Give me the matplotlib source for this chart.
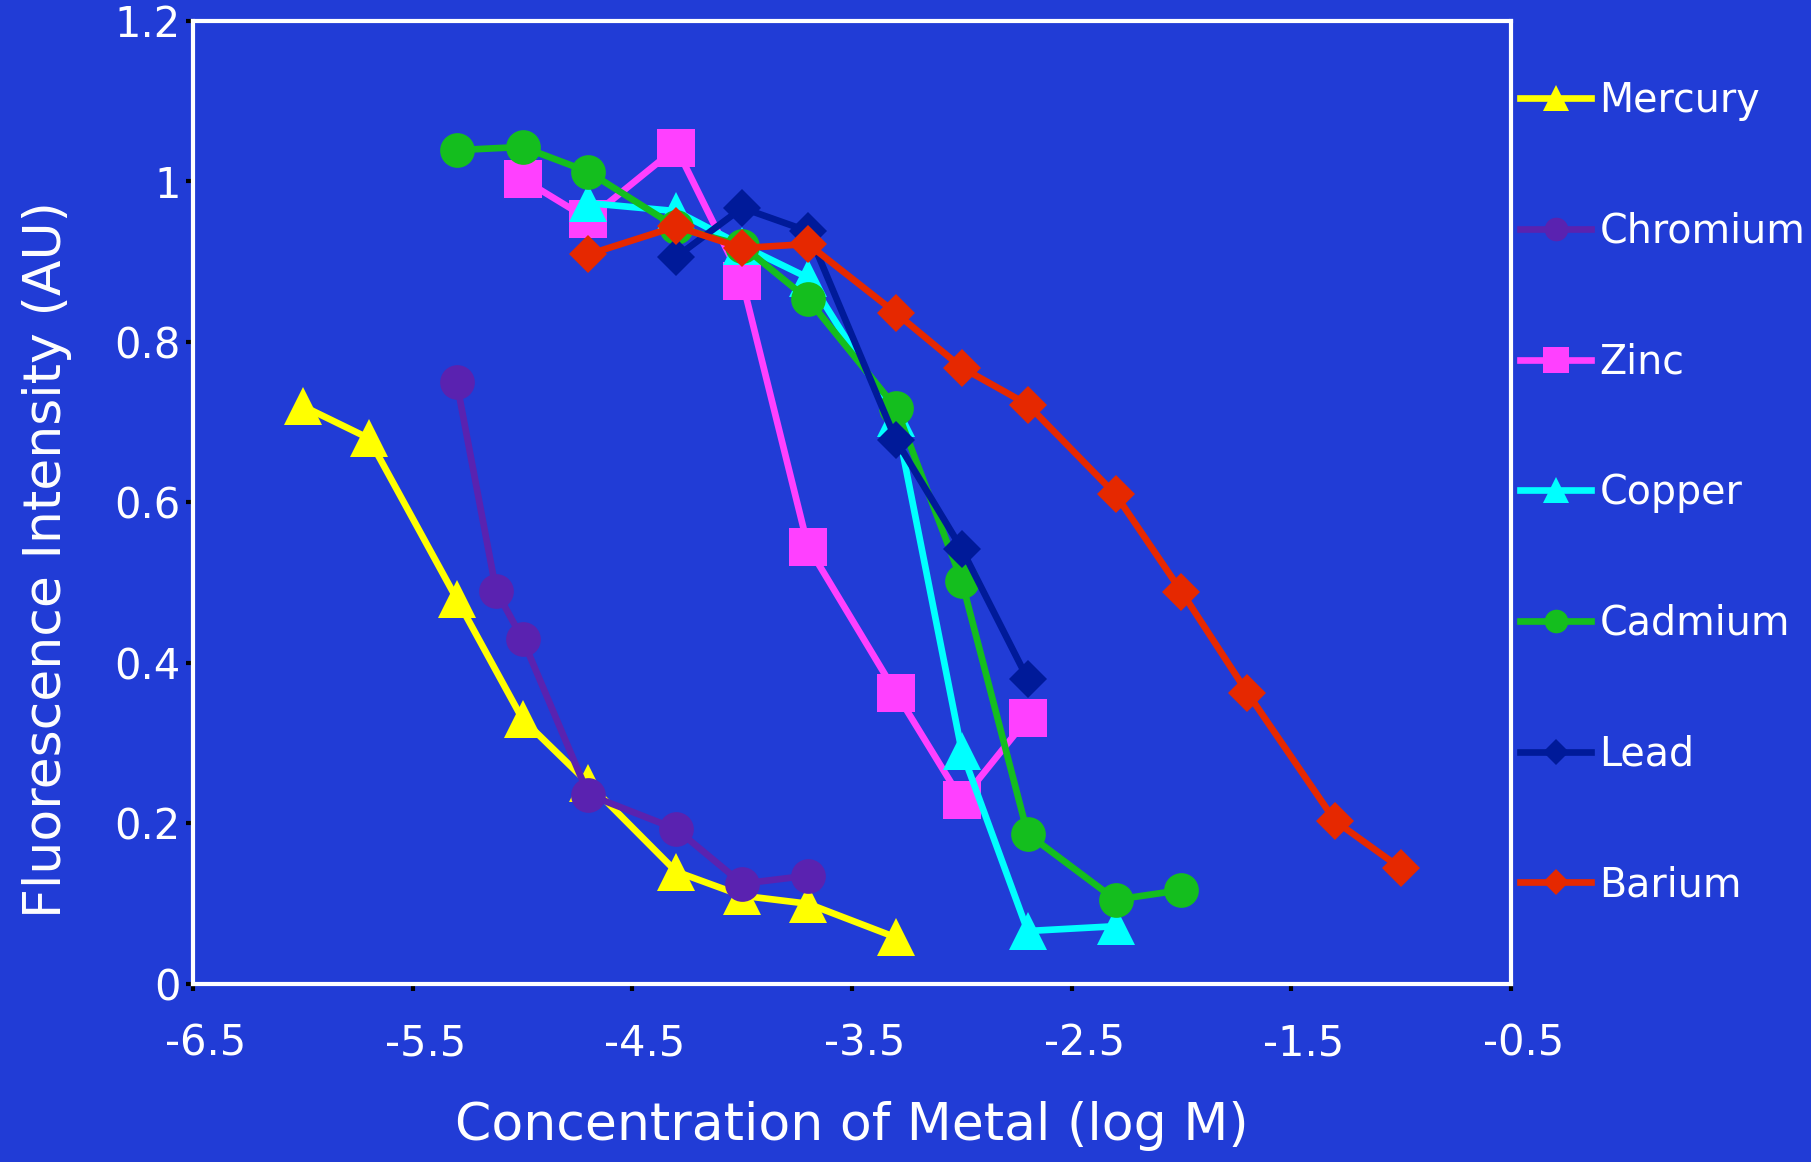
import matplotlib
matplotlib.use("Agg")
import matplotlib.pyplot as plt
from matplotlib.transforms import ScaledTranslation

# log10 of concentration (M)
mercury_x = [-6.0, -5.7, -5.3, -5.0, -4.7, -4.3, -4.0, -3.7, -3.3]
mercury_y = [0.72, 0.68, 0.48, 0.33, 0.25, 0.14, 0.11, 0.10, 0.058]

chromium_x = [-5.3, -5.12, -5.0, -4.7, -4.3, -4.0, -3.7]
chromium_y = [0.75, 0.49, 0.43, 0.236, 0.193, 0.125, 0.135]

zinc_x = [-5.0, -4.7, -4.3, -4.0, -3.7, -3.3, -3.0, -2.7]
zinc_y = [1.003, 0.953, 1.042, 0.876, 0.545, 0.363, 0.229, 0.331]

copper_x = [-4.7, -4.3, -4.0, -3.7, -3.3, -3.0, -2.7, -2.3]
copper_y = [0.973, 0.963, 0.92, 0.88, 0.705, 0.29, 0.066, 0.072]

cadmium_x = [-5.3, -5.0, -4.7, -4.3, -4.0, -3.7, -3.3, -3.0, -2.7, -2.3, -2.0]
cadmium_y = [1.039, 1.043, 1.012, 0.943, 0.92, 0.853, 0.718, 0.502, 0.187, 0.105, 0.117]

lead_x = [-4.3, -4.0, -3.7, -3.3, -3.0, -2.7]
lead_y = [0.906, 0.967, 0.938, 0.678, 0.542, 0.38]

barium_x = [-4.7, -4.3, -4.0, -3.7, -3.3, -3.0, -2.7, -2.3, -2.0, -1.7, -1.3, -1.0]
barium_y = [0.909, 0.944, 0.917, 0.922, 0.836, 0.768, 0.722, 0.61, 0.489, 0.363, 0.203, 0.144]

x_ticks = [-6.5, -5.5, -4.5, -3.5, -2.5, -1.5, -0.5]
y_ticks = [0, 0.2, 0.4, 0.6, 0.8, 1.0, 1.2]

BG = "#213CD6"

series = [
    ("Mercury", mercury_x, mercury_y, "#FFFF00", "^", 28),
    ("Chromium", chromium_x, chromium_y, "#5A22B0", "o", 25),
    ("Zinc", zinc_x, zinc_y, "#FF40FF", "s", 27),
    ("Copper", copper_x, copper_y, "#00FFFF", "^", 28),
    ("Cadmium", cadmium_x, cadmium_y, "#14BE1E", "o", 25),
    ("Lead", lead_x, lead_y, "#001A99", "D", 19),
    ("Barium", barium_x, barium_y, "#E62800", "D", 19),
]

plt.rcParams["font.family"] = ["DejaVu Sans"]
plt.rcParams["axes.unicode_minus"] = False

fig = plt.figure(figsize=(18.11, 11.62), dpi=100, facecolor=BG)
ax = fig.add_axes([0.1066, 0.1532, 0.7277, 0.8288], facecolor=BG)

for name, xs, ys, col, mk, ms in series:
    ax.plot(xs, ys, color=col, lw=4.8, marker=mk, ms=ms,
            markeredgewidth=0, label=name, solid_joinstyle="round")

ax.set_xlim(-6.5, -0.5)
ax.set_ylim(0, 1.2)
ax.set_xticks(x_ticks)
ax.set_xticklabels([f"{v:g}" for v in x_ticks])
ax.set_yticks(y_ticks)
ax.set_yticklabels([f"{v:g}" for v in y_ticks])

for s in ax.spines.values():
    s.set_color("white")
    s.set_linewidth(3)

ax.tick_params(axis="both", colors="black", labelcolor="white",
               direction="out", length=5, width=3, labelsize=30)
ax.tick_params(axis="x", pad=23)
ax.tick_params(axis="y", pad=4)
ax.tick_params(top=False, right=False)

# x labels in the original sit a bit to the right of their ticks
shift = ScaledTranslation(9 / 72, 0, fig.dpi_scale_trans)
for lbl in ax.get_xticklabels():
    lbl.set_transform(lbl.get_transform() + shift)

ax.set_xlabel("Concentration of Metal (log M)", color="white", fontsize=37.5, labelpad=26)
ax.set_ylabel("Fluorescence Intensity (AU)", color="white", fontsize=37.5)
ax.yaxis.set_label_coords(-0.111, 0.441)
ax.yaxis.label.set_va("center")

leg = ax.legend(loc="center left", bbox_to_anchor=(0.8394, 0.5755),
                bbox_transform=fig.transFigure, frameon=False, fontsize=28.5,
                labelspacing=2.29, handlelength=1.8, handletextpad=0.2,
                borderpad=0, borderaxespad=0, markerscale=0.68, numpoints=1)
for t in leg.get_texts():
    t.set_color("white")

fig.savefig("out.png", dpi=100, facecolor=BG)
